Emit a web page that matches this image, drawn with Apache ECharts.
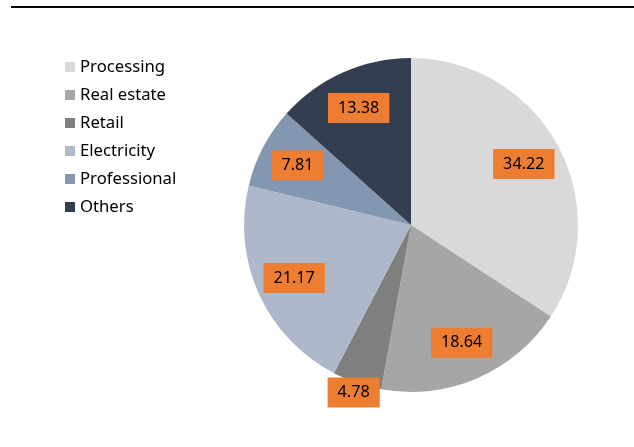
<!DOCTYPE html>
<html>
<head>
<meta charset="utf-8">
<script src="https://cdn.jsdelivr.net/npm/echarts@6/dist/echarts.min.js"></script>
<style>
  html, body { margin: 0; padding: 0; background: #fff; }
  #chart { width: 634px; height: 447px; }
</style>
</head>
<body>
<div id="chart"></div>
<script>
// Sector shares (%)
const categories = ['Processing', 'Real estate', 'Retail', 'Electricity', 'Professional', 'Others'];
const shares = [34.22, 18.64, 4.78, 21.17, 7.81, 13.38];
const sliceColors = ['#D9D9D9', '#A6A6A6', '#7F7F7F', '#ADB9CA', '#8497B0', '#333F50'];
// Small slices whose label sits just past the rim
const rimLabelIdx = [2];

const FONT = 'Noto Sans';
const CENTER = [411, 225];
const R = 167;

const labelBox = {
  color: '#000',
  fontFamily: FONT,
  fontSize: 16.2,
  lineHeight: 18,
  backgroundColor: '#ED7D31',
  padding: [6, 10],
  formatter: p => p.value.toFixed(2)
};

const pieData = categories.map((name, i) => ({
  name,
  value: shares[i],
  itemStyle: { color: sliceColors[i] }
}));

// Invisible ring series used only to place value labels
function labelRing(radius, showFn) {
  return {
    type: 'pie',
    center: CENTER,
    radius: radius,
    startAngle: 90,
    clockwise: true,
    silent: true,
    animation: false,
    legendHoverLink: false,
    itemStyle: { color: 'rgba(0,0,0,0)' },
    labelLine: { show: false },
    emphasis: { disabled: true },
    label: Object.assign({ show: false, position: 'inside' }, labelBox),
    data: categories.map((name, i) => ({
      name,
      value: shares[i],
      itemStyle: { color: 'rgba(0,0,0,0)' },
      label: { show: showFn(i) }
    }))
  };
}

const chart = echarts.init(document.getElementById('chart'), null, { renderer: 'canvas' });
chart.setOption({
  backgroundColor: '#fff',
  animation: false,
  graphic: [{
    type: 'line',
    shape: { x1: 11, y1: 7, x2: 634, y2: 7 },
    style: { stroke: '#000', lineWidth: 2 }
  }],
  legend: {
    orient: 'vertical',
    left: 60,
    top: 52,
    itemWidth: 10,
    itemHeight: 10,
    itemGap: 8,
    icon: 'rect',
    selectedMode: false,
    data: categories,
    textStyle: { color: '#000', fontFamily: FONT, fontSize: 16.7, lineHeight: 20 }
  },
  series: [
    {
      type: 'pie',
      center: CENTER,
      radius: [0, R],
      startAngle: 90,
      clockwise: true,
      silent: true,
      label: { show: false },
      labelLine: { show: false },
      emphasis: { disabled: true },
      data: pieData
    },
    labelRing([R / 2, R], i => !rimLabelIdx.includes(i)),
    labelRing([R, R + 14], i => rimLabelIdx.includes(i))
  ]
});
</script>
</body>
</html>
